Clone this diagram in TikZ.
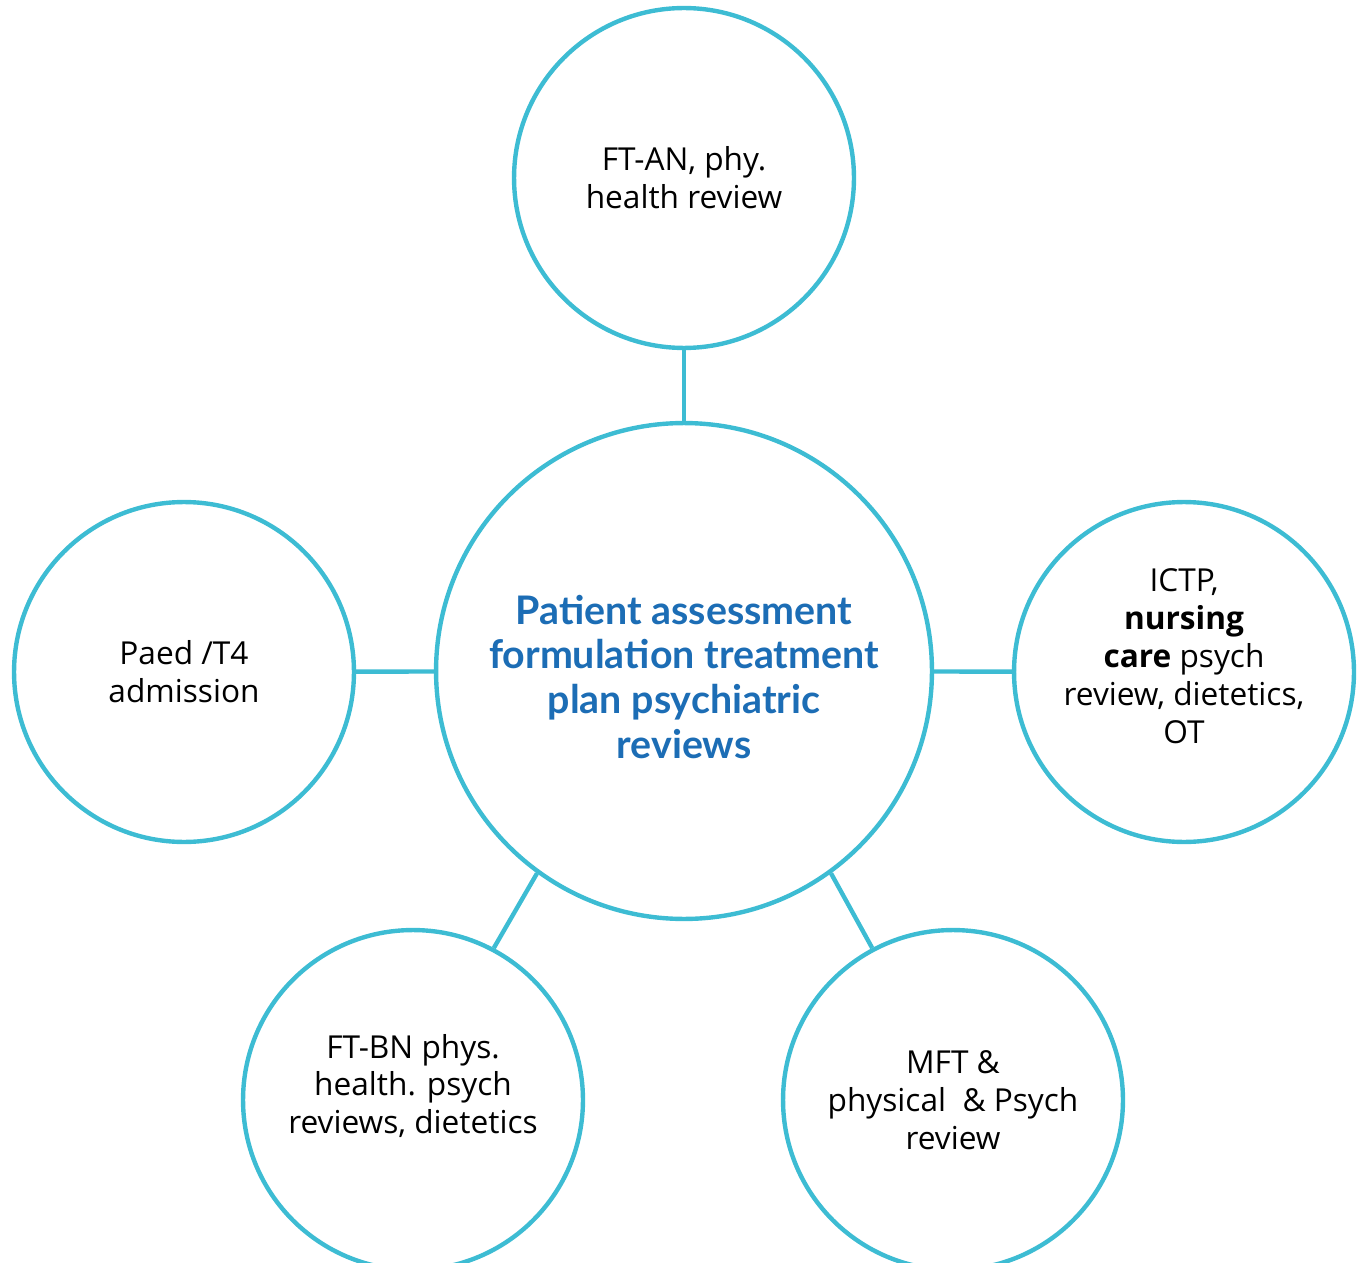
\documentclass[tikz,border=0pt]{standalone}
\usepackage{fontspec}
\setmainfont{Open Sans}
\newfontfamily\hubfont{Lato}
\usepackage{tikz}
\usetikzlibrary{positioning}
\usepackage{xcolor}
\definecolor{ringteal}{HTML}{3DBCD3}
\definecolor{hubblue}{HTML}{1C6DB5}

\begin{document}
\begin{tikzpicture}[
  x=0.02cm, y=-0.02cm,
  sat/.style={
    circle, draw=ringteal, line width=2.5pt, fill=white,
    minimum size=6.8cm, inner sep=0pt, align=center,
    font=\fontsize{18}{21.6}\selectfont
  },
  hub/.style={
    circle, draw=ringteal, line width=2.5pt, fill=white,
    minimum size=9.92cm, inner sep=0pt, align=center
  },
  hubtxt/.style={
    align=center, inner sep=0pt, text=hubblue,
    font=\hubfont\bfseries\fontsize{22.4}{25.6}\selectfont
  },
  txt/.style={
    align=center, inner sep=0pt,
    font=\fontsize{18}{21.6}\selectfont
  },
  link/.style={draw=ringteal, line width=2.5pt},
]
  \useasboundingbox (0,0) rectangle (1365,1263);

  % Central circle
  \node[hub] (ctr) at (684,671) {};
  \node[hubtxt] (ctrtxt) at (684,677) {%
    Patient assessment\\
    formulation treatment\\
    plan psychiatric\\
    reviews};

  % Satellite circles
  \node[sat] (top) at (684,178) {FT-AN, phy.\\health review};
  \node[sat] (left) at (184,672) {Paed /T4\\admission};
  \node[sat] (right) at (1184,672) {};
  \node[txt] (righttxt) at (1184,656) {%
    ICTP,\\
    \textbf{nursing}\\
    \textbf{care} psych\\
    review, dietetics,\\
    OT};
  \node[sat] (botl) at (413,1100) {};
  \node[txt] (botltxt) at (413,1086) {%
    FT-BN phys.\\
    health. psych\\
    reviews, dietetics};
  \node[sat] (botr) at (953,1100) {%
    MFT \&\\
    physical~ \& Psych\\
    review};

  % Links
  \draw[link] (ctr) -- (top);
  \draw[link] (ctr) -- (left);
  \draw[link] (ctr) -- (right);
  \draw[link] (ctr.234) -- (botl.62);
  \draw[link] (ctr.306) -- (botr.118);
\end{tikzpicture}
\end{document}
